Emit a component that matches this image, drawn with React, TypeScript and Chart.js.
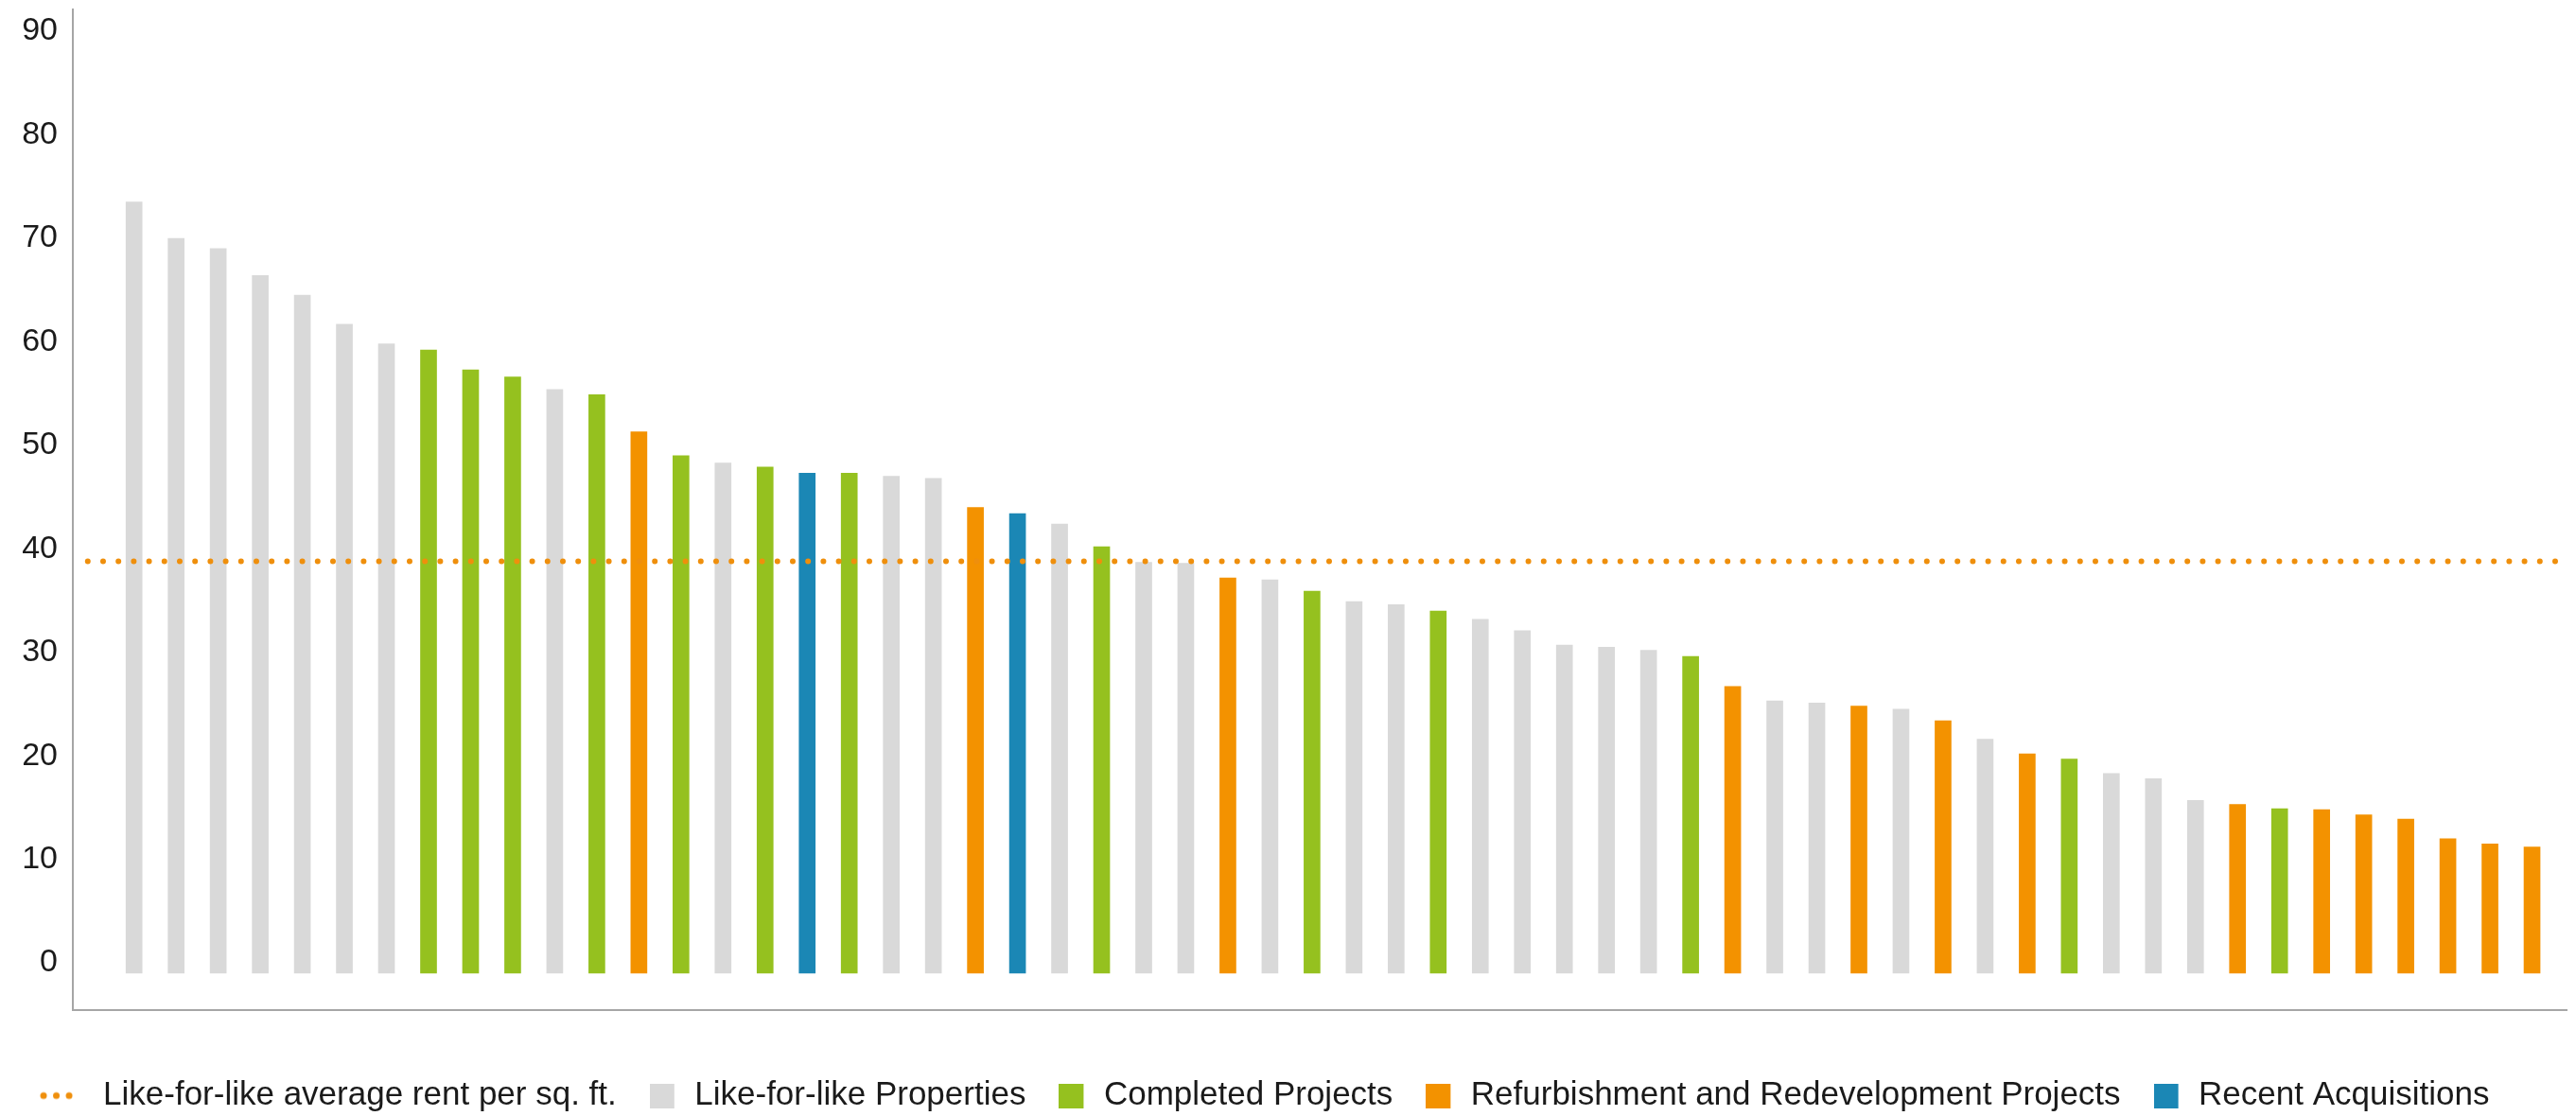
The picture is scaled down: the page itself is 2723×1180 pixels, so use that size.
import { useEffect, useRef } from "react";
import { Chart, registerables } from "chart.js";

Chart.register(...registerables);

// Average rent per sq. ft. for each property, sorted from highest to lowest
const propertyValues = [
  74.5, 71.0, 70.0, 67.4, 65.5, 62.7, 60.8, 60.2, 58.3, 57.6,
  56.4, 55.9, 52.3, 50.0, 49.3, 48.9, 48.3, 48.3, 48.0, 47.8,
  45.0, 44.4, 43.4, 41.2, 39.7, 39.6, 38.2, 38.0, 36.9, 35.9,
  35.6, 35.0, 34.2, 33.1, 31.7, 31.5, 31.2, 30.6, 27.7, 26.3,
  26.1, 25.8, 25.5, 24.4, 22.6, 21.2, 20.7, 19.3, 18.8, 16.7,
  16.3, 15.9, 15.8, 15.3, 14.9, 13.0, 12.5, 12.2,
];

// Property group of each bar: L = like-for-like, C = completed project,
// R = refurbishment / redevelopment, A = recent acquisition
const propertyTypes = [
  "L", "L", "L", "L", "L", "L", "L", "C", "C", "C",
  "L", "C", "R", "C", "L", "C", "A", "C", "L", "L",
  "R", "A", "L", "C", "L", "L", "R", "L", "C", "L",
  "L", "C", "L", "L", "L", "L", "L", "C", "R", "L",
  "L", "R", "L", "R", "L", "R", "C", "L", "L", "L",
  "R", "C", "R", "R", "R", "R", "R", "R",
];

const averageRent = 39.8;
const averageLabel = "Like-for-like average rent per sq. ft.";
const averageColor = "#ef8f0c";

const seriesKeys = ["L", "C", "R", "A"];
const seriesLabels = [
  "Like-for-like Properties",
  "Completed Projects",
  "Refurbishment and Redevelopment Projects",
  "Recent Acquisitions",
];
const seriesColors = ["#d9d9d9", "#95c11f", "#f39200", "#1b87b5"];

const yTickValues = [0, 10, 20, 30, 40, 50, 60, 70, 80, 90];

// Scale extents (in bar-index units on x, value units on y)
const X_MIN = -1.455;
const X_MAX = 57.82;
const Y_MIN = -3.56;
const Y_MAX = 93.11;
const AVG_START = -1.1;
const AVG_END = 57.57;

const FONT = '"Liberation Sans", Arial, Helvetica, sans-serif';
const TEXT_COLOR = "#1a1a1a";
const AXIS_COLOR = "#a6a6a6";

function boxSwatch(color: string): HTMLCanvasElement {
  const c = document.createElement("canvas");
  c.width = 30;
  c.height = 26;
  const g = c.getContext("2d")!;
  g.fillStyle = color;
  g.fillRect(0, 0, 26, 26);
  return c;
}

function dotSwatch(color: string): HTMLCanvasElement {
  const c = document.createElement("canvas");
  c.width = 69;
  c.height = 10;
  const g = c.getContext("2d")!;
  g.fillStyle = color;
  for (const cx of [4, 17.5, 31]) {
    g.beginPath();
    g.arc(cx, 5, 3.5, 0, Math.PI * 2);
    g.fill();
  }
  return c;
}

// Moves the centred legend row slightly to the left of the canvas centre
const legendNudge = {
  id: "legendNudge",
  afterLayout(chart: any) {
    const legend = chart.legend;
    if (legend) {
      legend.left -= 10;
      legend.right -= 10;
    }
  },
};

export default function App() {
  const canvasRef = useRef<HTMLCanvasElement | null>(null);

  useEffect(() => {
    const canvas = canvasRef.current;
    if (!canvas) return;

    Chart.defaults.font.family = FONT;
    Chart.defaults.color = TEXT_COLOR;

    const swatches = [dotSwatch(averageColor), ...seriesColors.map(boxSwatch)];

    const barSets = seriesKeys.map((key, s) => ({
      type: "bar" as const,
      label: seriesLabels[s],
      data: propertyValues
        .map((v, i) => ({ x: i, y: v }))
        .filter((_, i) => propertyTypes[i] === key),
      backgroundColor: seriesColors[s],
      borderWidth: 0,
      barThickness: 17,
      grouped: false,
      order: 1,
    }));

    const chart = new Chart(canvas, {
      type: "bar",
      data: {
        datasets: [
          {
            type: "line" as const,
            label: averageLabel,
            data: [
              { x: AVG_START, y: averageRent },
              { x: AVG_END, y: averageRent },
            ],
            borderColor: averageColor,
            backgroundColor: averageColor,
            borderWidth: 6,
            borderDash: [0, 16.2],
            borderCapStyle: "round",
            pointRadius: 0,
            fill: false,
            order: 0,
          },
          ...barSets,
        ] as any,
      },
      options: {
        responsive: false,
        animation: false,
        devicePixelRatio: 1,
        layout: { padding: { top: 10, right: 10, left: 0, bottom: 0 } },
        scales: {
          x: {
            type: "linear",
            min: X_MIN,
            max: X_MAX,
            offset: false,
            grid: { display: false, drawTicks: false },
            ticks: { display: false },
            border: { display: true, color: AXIS_COLOR, width: 2 },
            afterFit(scale: any) {
              scale.height = 38;
              scale.paddingLeft = 0;
              scale.paddingRight = 0;
            },
          },
          y: {
            type: "linear",
            min: Y_MIN,
            max: Y_MAX,
            afterBuildTicks(scale: any) {
              scale.ticks = yTickValues.map((v) => ({ value: v }));
            },
            grid: { display: false, drawTicks: false },
            border: { display: true, color: AXIS_COLOR, width: 2 },
            ticks: {
              padding: 16,
              labelOffset: -11,
              color: TEXT_COLOR,
              font: { size: 34, family: FONT },
            },
            afterFit(scale: any) {
              scale.width = 77;
              scale.paddingTop = 0;
              scale.paddingBottom = 0;
            },
          },
        },
        plugins: {
          tooltip: { enabled: false },
          legend: {
            position: "bottom",
            labels: {
              usePointStyle: true,
              boxWidth: 30,
              boxHeight: 26,
              padding: 35,
              color: TEXT_COLOR,
              font: { size: 35, family: FONT },
              generateLabels(c: any) {
                const items = Chart.defaults.plugins.legend.labels.generateLabels(c);
                return items.map((item: any, i: number) => ({
                  ...item,
                  pointStyle: swatches[i],
                }));
              },
            },
          },
        },
      } as any,
      plugins: [legendNudge],
    });

    return () => chart.destroy();
  }, []);

  return (
    <div
      style={{
        position: "fixed",
        left: 0,
        top: 0,
        width: 2723,
        height: 1186,
        background: "#ffffff",
      }}
    >
      <canvas ref={canvasRef} width={2723} height={1186} style={{ display: "block" }} />
    </div>
  );
}
